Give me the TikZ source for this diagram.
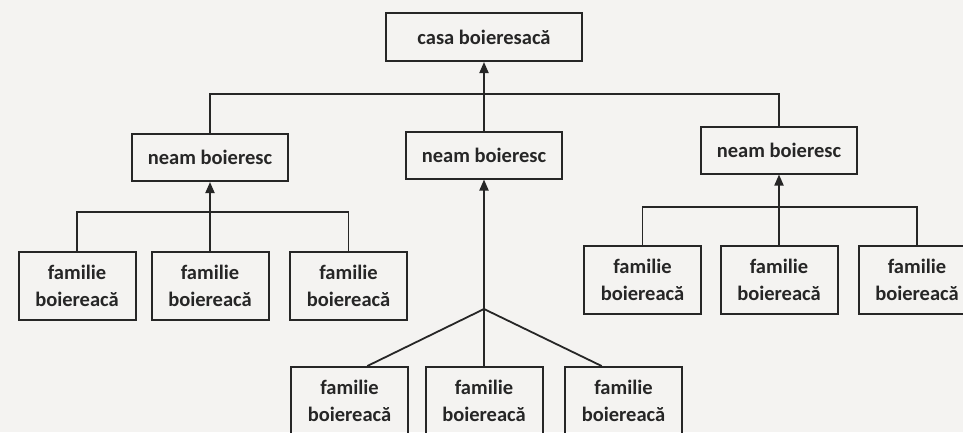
\documentclass[tikz,border=0pt]{standalone}
\usepackage{fontspec}
\setmainfont{Carlito}
\usetikzlibrary{arrows.meta}
\definecolor{paper}{HTML}{F4F3F1}
\definecolor{ink}{HTML}{262626}
\tikzset{
  box/.style={draw=ink,line width=2pt,rectangle,inner sep=0pt,
    text=ink,font=\bfseries\fontsize{20.5}{27}\selectfont,align=center},
  casa/.style={box,minimum width=196,minimum height=48},
  neam/.style={box,minimum width=156,minimum height=47},
  fam/.style={box,minimum width=117,minimum height=68},
  link/.style={draw=ink,line width=1.8pt},
  up/.style={link,-{Triangle[length=11pt,width=9pt]}}
}
\begin{document}
\begin{tikzpicture}[x=1pt,y=-1pt]
\fill[paper] (0,0) rectangle (963,432);
\useasboundingbox (0,0) rectangle (963,432);
% top of the tree
\node[casa] (casa) at (484,37) {casa boieresacă};
\node[neam] (ln) at (210,157.5) {neam boieresc};
\node[neam] (cn) at (484,155) {neam boieresc};
\node[neam] (rn) at (779,150) {neam boieresc};
\coordinate (hub) at (484,94);
\draw[link] (ln.north) |- (hub) -| (rn.north);
\draw[up] (cn.north) -- (casa.south);
% left families
\foreach \n/\x in {1/77,2/210,3/348.5}
\node[fam] (lf\n) at (\x,285.5) {familie\\boiereacă};
\coordinate (lhub) at (210,212);
\draw[link] (lf1.north) |- (lhub) -| (lf3.north);
\draw[up] (lf2.north) -- (ln.south);
% right families
\foreach \n/\x in {1/642.5,2/779,3/917}
\node[fam] (rf\n) at (\x,279.5) {familie\\boiereacă};
\coordinate (rhub) at (779,207);
\draw[link] (rf1.north) |- (rhub) -| (rf3.north);
\draw[up] (rf2.north) -- (rn.south);
% bottom families, hanging under the middle
\foreach \n/\x in {1/349.5,2/484,3/623.5}
\node[fam] (bf\n) at (\x,401) {familie\\boiereacă};
\coordinate (chub) at (484,309);
\draw[link] (bf1.63) -- (chub) -- (bf3.122);
\draw[up] (bf2.north) -- (cn.south);
\end{tikzpicture}
\end{document}
